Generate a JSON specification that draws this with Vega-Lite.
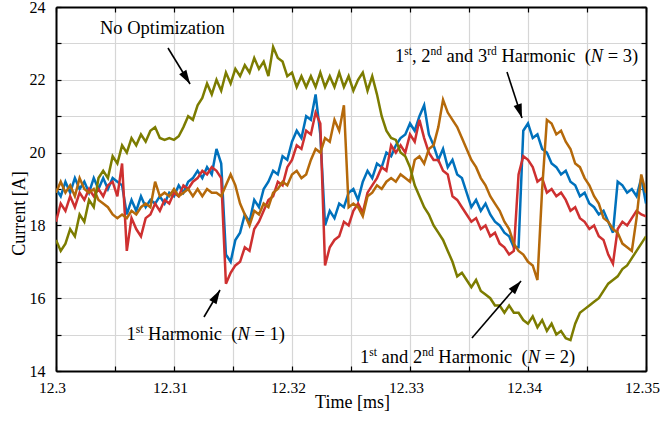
{
  "$schema": "https://vega.github.io/schema/vega-lite/v6.json",
  "width": 590,
  "height": 364,
  "autosize": {"type": "none"},
  "padding": {"left": 56, "top": 7, "right": 15, "bottom": 50},
  "background": "white",
  "config": {"view": {"stroke": null}, "font": "Liberation Serif", "axis": {"labelFont": "Liberation Serif", "titleFont": "Liberation Serif"}},
  "datasets": {
    "current": [
      {"t":12.3,"none":17.6,"n3":19.0,"n1":18.1,"n2":18.9},
      {"t":12.3004,"none":17.3,"n3":18.8,"n1":18.6,"n2":19.2},
      {"t":12.3008,"none":17.5,"n3":19.2,"n1":18.4,"n2":18.9},
      {"t":12.3012,"none":17.9,"n3":18.9,"n1":18.8,"n2":19.1},
      {"t":12.3016,"none":17.7,"n3":19.3,"n1":18.5,"n2":18.8},
      {"t":12.302,"none":18.3,"n3":19.0,"n1":18.9,"n2":19.3},
      {"t":12.3024,"none":18.1,"n3":19.2,"n1":18.7,"n2":19.0},
      {"t":12.3028,"none":18.7,"n3":18.9,"n1":19.0,"n2":18.9},
      {"t":12.3032,"none":18.5,"n3":19.3,"n1":18.8,"n2":19.0},
      {"t":12.3036,"none":19.3,"n3":19.0,"n1":19.0,"n2":18.7},
      {"t":12.304,"none":19.5,"n3":19.3,"n1":18.8,"n2":18.6},
      {"t":12.3044,"none":19.3,"n3":19.0,"n1":19.1,"n2":18.5},
      {"t":12.3048,"none":19.9,"n3":19.3,"n1":19.2,"n2":18.3},
      {"t":12.3052,"none":19.7,"n3":19.2,"n1":18.8,"n2":18.2},
      {"t":12.3056,"none":20.2,"n3":19.1,"n1":19.7,"n2":18.3},
      {"t":12.306,"none":20.0,"n3":18.3,"n1":17.3,"n2":18.2},
      {"t":12.3064,"none":20.4,"n3":18.7,"n1":18.2,"n2":18.4},
      {"t":12.3068,"none":20.2,"n3":18.4,"n1":17.9,"n2":18.3},
      {"t":12.3072,"none":20.5,"n3":18.8,"n1":17.7,"n2":18.5},
      {"t":12.3076,"none":20.3,"n3":18.5,"n1":18.2,"n2":18.6},
      {"t":12.308,"none":20.6,"n3":18.7,"n1":18.3,"n2":18.5},
      {"t":12.3084,"none":20.7,"n3":18.6,"n1":18.6,"n2":19.2},
      {"t":12.3088,"none":20.4,"n3":18.8,"n1":18.4,"n2":18.8},
      {"t":12.3092,"none":20.35,"n3":18.6,"n1":18.7,"n2":18.9},
      {"t":12.3096,"none":20.4,"n3":18.9,"n1":18.6,"n2":18.8},
      {"t":12.31,"none":20.35,"n3":18.8,"n1":18.9,"n2":19.0},
      {"t":12.3104,"none":20.45,"n3":19.1,"n1":18.8,"n2":18.8},
      {"t":12.3108,"none":20.7,"n3":18.9,"n1":19.1,"n2":18.9},
      {"t":12.3112,"none":21.0,"n3":19.2,"n1":19.0,"n2":19.0},
      {"t":12.3116,"none":20.9,"n3":19.3,"n1":19.2,"n2":18.8},
      {"t":12.312,"none":21.3,"n3":19.5,"n1":19.3,"n2":19.0},
      {"t":12.3124,"none":21.5,"n3":19.3,"n1":19.5,"n2":18.8},
      {"t":12.3128,"none":21.9,"n3":19.6,"n1":19.4,"n2":19.0},
      {"t":12.3132,"none":21.6,"n3":19.4,"n1":19.6,"n2":18.9},
      {"t":12.3136,"none":22.0,"n3":20.1,"n1":19.5,"n2":18.9},
      {"t":12.314,"none":21.7,"n3":19.7,"n1":19.3,"n2":18.8},
      {"t":12.3144,"none":22.2,"n3":17.2,"n1":16.4,"n2":19.1},
      {"t":12.3148,"none":21.9,"n3":17.0,"n1":16.7,"n2":19.4},
      {"t":12.3152,"none":22.3,"n3":17.6,"n1":16.9,"n2":19.1},
      {"t":12.3156,"none":22.1,"n3":17.8,"n1":17.0,"n2":18.6},
      {"t":12.316,"none":22.4,"n3":18.3,"n1":17.4,"n2":18.3},
      {"t":12.3164,"none":22.2,"n3":18.1,"n1":17.3,"n2":18.0},
      {"t":12.3168,"none":22.6,"n3":18.7,"n1":17.9,"n2":18.4},
      {"t":12.3172,"none":22.3,"n3":18.5,"n1":18.1,"n2":18.3},
      {"t":12.3176,"none":22.5,"n3":19.0,"n1":18.4,"n2":18.6},
      {"t":12.318,"none":22.1,"n3":19.2,"n1":18.7,"n2":18.5},
      {"t":12.3184,"none":22.9,"n3":19.5,"n1":18.8,"n2":18.9},
      {"t":12.3188,"none":22.6,"n3":19.4,"n1":19.2,"n2":19.0},
      {"t":12.3192,"none":22.5,"n3":19.9,"n1":19.1,"n2":19.2},
      {"t":12.3196,"none":22.1,"n3":19.8,"n1":19.6,"n2":19.1},
      {"t":12.32,"none":22.2,"n3":20.3,"n1":19.8,"n2":19.4},
      {"t":12.3204,"none":21.8,"n3":20.6,"n1":20.2,"n2":19.5},
      {"t":12.3208,"none":22.1,"n3":20.4,"n1":20.1,"n2":19.3},
      {"t":12.3212,"none":21.8,"n3":21.0,"n1":20.6,"n2":19.4},
      {"t":12.3216,"none":22.1,"n3":20.9,"n1":20.5,"n2":19.8},
      {"t":12.322,"none":21.8,"n3":21.6,"n1":21.1,"n2":20.1},
      {"t":12.3224,"none":22.2,"n3":20.5,"n1":20.8,"n2":20.0},
      {"t":12.3228,"none":21.8,"n3":18.0,"n1":16.9,"n2":20.4},
      {"t":12.3232,"none":22.1,"n3":18.4,"n1":17.4,"n2":20.3},
      {"t":12.3236,"none":21.8,"n3":18.2,"n1":17.6,"n2":20.9},
      {"t":12.324,"none":22.2,"n3":18.6,"n1":17.7,"n2":20.6},
      {"t":12.3244,"none":21.8,"n3":18.5,"n1":18.1,"n2":21.3},
      {"t":12.3248,"none":22.1,"n3":18.9,"n1":18.0,"n2":18.5},
      {"t":12.3252,"none":21.7,"n3":19.0,"n1":18.4,"n2":18.6},
      {"t":12.3256,"none":22.0,"n3":18.7,"n1":18.6,"n2":18.5},
      {"t":12.326,"none":22.2,"n3":19.2,"n1":18.35,"n2":18.25},
      {"t":12.3264,"none":21.7,"n3":19.5,"n1":18.9,"n2":18.8},
      {"t":12.3268,"none":22.1,"n3":19.3,"n1":19.1,"n2":18.9},
      {"t":12.3272,"none":21.6,"n3":19.7,"n1":19.3,"n2":19.1},
      {"t":12.3276,"none":21.0,"n3":19.6,"n1":19.6,"n2":19.0},
      {"t":12.328,"none":20.6,"n3":20.0,"n1":19.5,"n2":19.2},
      {"t":12.3284,"none":20.4,"n3":19.9,"n1":20.2,"n2":19.3},
      {"t":12.3288,"none":20.35,"n3":20.2,"n1":20.0,"n2":19.2},
      {"t":12.3292,"none":20.0,"n3":20.4,"n1":20.2,"n2":19.4},
      {"t":12.3296,"none":19.9,"n3":20.5,"n1":20.0,"n2":19.3},
      {"t":12.33,"none":19.6,"n3":20.8,"n1":20.5,"n2":19.2},
      {"t":12.3304,"none":19.1,"n3":20.6,"n1":20.3,"n2":19.8},
      {"t":12.3308,"none":18.8,"n3":21.0,"n1":20.9,"n2":19.9},
      {"t":12.3312,"none":18.5,"n3":21.3,"n1":20.4,"n2":19.7},
      {"t":12.3316,"none":18.3,"n3":20.5,"n1":20.0,"n2":20.1},
      {"t":12.332,"none":18.0,"n3":20.2,"n1":19.8,"n2":20.2},
      {"t":12.3324,"none":17.8,"n3":19.8,"n1":19.8,"n2":20.7},
      {"t":12.3328,"none":17.6,"n3":20.1,"n1":19.5,"n2":21.45},
      {"t":12.3332,"none":17.3,"n3":19.6,"n1":19.4,"n2":21.1},
      {"t":12.3336,"none":17.0,"n3":19.8,"n1":18.8,"n2":20.9},
      {"t":12.334,"none":16.6,"n3":19.4,"n1":18.7,"n2":20.7},
      {"t":12.3344,"none":16.7,"n3":19.3,"n1":18.5,"n2":20.4},
      {"t":12.3348,"none":16.5,"n3":18.9,"n1":18.3,"n2":20.1},
      {"t":12.3352,"none":16.3,"n3":18.5,"n1":18.1,"n2":19.8},
      {"t":12.3356,"none":16.5,"n3":18.7,"n1":18.2,"n2":19.6},
      {"t":12.336,"none":16.2,"n3":18.4,"n1":17.9,"n2":19.3},
      {"t":12.3364,"none":16.1,"n3":18.6,"n1":18.0,"n2":19.1},
      {"t":12.3368,"none":16.0,"n3":18.3,"n1":17.7,"n2":18.8},
      {"t":12.3372,"none":15.8,"n3":18.1,"n1":17.8,"n2":18.6},
      {"t":12.3376,"none":15.8,"n3":18.0,"n1":17.5,"n2":18.4},
      {"t":12.338,"none":15.6,"n3":17.8,"n1":17.4,"n2":18.1},
      {"t":12.3384,"none":15.8,"n3":17.7,"n1":17.2,"n2":17.9},
      {"t":12.3388,"none":15.6,"n3":17.4,"n1":17.3,"n2":17.5},
      {"t":12.3392,"none":15.6,"n3":17.4,"n1":19.4,"n2":17.3},
      {"t":12.3396,"none":15.4,"n3":20.6,"n1":19.9,"n2":17.2},
      {"t":12.34,"none":15.3,"n3":20.8,"n1":19.8,"n2":17.0},
      {"t":12.3404,"none":15.5,"n3":20.4,"n1":19.6,"n2":16.9},
      {"t":12.3408,"none":15.2,"n3":20.5,"n1":19.2,"n2":16.5},
      {"t":12.3412,"none":15.4,"n3":20.1,"n1":19.3,"n2":19.0},
      {"t":12.3416,"none":15.1,"n3":20.0,"n1":18.9,"n2":20.9},
      {"t":12.342,"none":15.3,"n3":19.7,"n1":19.0,"n2":20.8},
      {"t":12.3424,"none":15.0,"n3":19.6,"n1":18.8,"n2":20.5},
      {"t":12.3428,"none":15.1,"n3":19.4,"n1":18.9,"n2":20.6},
      {"t":12.3432,"none":14.9,"n3":19.5,"n1":18.7,"n2":20.3},
      {"t":12.3436,"none":14.85,"n3":19.2,"n1":18.4,"n2":20.1},
      {"t":12.344,"none":15.3,"n3":19.1,"n1":18.5,"n2":19.7},
      {"t":12.3444,"none":15.6,"n3":18.8,"n1":18.2,"n2":19.6},
      {"t":12.3448,"none":15.7,"n3":18.9,"n1":18.1,"n2":19.3},
      {"t":12.3452,"none":15.8,"n3":18.6,"n1":17.9,"n2":19.1},
      {"t":12.3456,"none":15.9,"n3":18.5,"n1":18.0,"n2":18.8},
      {"t":12.346,"none":16.0,"n3":18.3,"n1":17.7,"n2":18.6},
      {"t":12.3464,"none":16.2,"n3":18.4,"n1":17.6,"n2":18.2},
      {"t":12.3468,"none":16.4,"n3":18.1,"n1":17.2,"n2":18.1},
      {"t":12.3472,"none":16.5,"n3":17.8,"n1":16.95,"n2":17.9},
      {"t":12.3476,"none":16.6,"n3":19.2,"n1":17.9,"n2":17.8},
      {"t":12.348,"none":16.8,"n3":19.1,"n1":18.1,"n2":17.5},
      {"t":12.3484,"none":16.9,"n3":18.9,"n1":18.0,"n2":17.4},
      {"t":12.3488,"none":17.1,"n3":19.0,"n1":18.2,"n2":17.3},
      {"t":12.3492,"none":17.3,"n3":18.8,"n1":18.4,"n2":18.2},
      {"t":12.3496,"none":17.5,"n3":19.3,"n1":18.3,"n2":19.4},
      {"t":12.35,"none":17.7,"n3":18.6,"n1":18.25,"n2":18.9}
    ],
    "labels": [
      {"t":12.303729,"v":23.258,"s":"No Optimization"},
      {"t":12.305975,"v":14.852,"s":"1"},
      {"t":12.307805,"v":14.852,"s":"Harmonic"},
      {"t":12.314856,"v":14.852,"s":"("},
      {"t":12.316822,"v":14.852,"s":"= 1)"},
      {"t":12.325763,"v":14.22,"s":"1"},
      {"t":12.327593,"v":14.22,"s":"and 2"},
      {"t":12.332398,"v":14.22,"s":"Harmonic"},
      {"t":12.339458,"v":14.22,"s":"("},
      {"t":12.341415,"v":14.22,"s":"= 2)"},
      {"t":12.328729,"v":22.489,"s":"1"},
      {"t":12.330165,"v":22.489,"s":", 2"},
      {"t":12.333102,"v":22.489,"s":"and 3"},
      {"t":12.337746,"v":22.489,"s":"Harmonic"},
      {"t":12.344805,"v":22.489,"s":"("},
      {"t":12.346763,"v":22.489,"s":"= 3)"}
    ],
    "ordinals": [
      {"t":12.306758,"v":14.852,"s":"st"},
      {"t":12.326547,"v":14.22,"s":"st"},
      {"t":12.331034,"v":14.22,"s":"nd"},
      {"t":12.329513,"v":22.489,"s":"st"},
      {"t":12.331733,"v":22.489,"s":"nd"},
      {"t":12.336542,"v":22.489,"s":"rd"}
    ],
    "symbolN": [
      {"t":12.315381,"v":14.852,"s":"N"},
      {"t":12.339975,"v":14.22,"s":"N"},
      {"t":12.345322,"v":22.489,"s":"N"}
    ],
    "arrows": [
      {"t1":12.30949,"v1":22.874,"t2":12.31136,"v2":21.885},
      {"t1":12.33822,"v1":22.214,"t2":12.33949,"v2":20.951},
      {"t1":12.31254,"v1":15.484,"t2":12.3139,"v2":16.225},
      {"t1":12.33525,"v1":14.907,"t2":12.33941,"v2":16.473}
    ]
  },
  "resolve": {"axis": {"x": "independent", "y": "independent"}},
  "layer": [
    {
      "data": {"name": "current"},
      "mark": {"type": "line", "color": "#0071BC", "strokeWidth": 2.5, "clip": true},
      "encoding": {
        "x": {
          "field": "t", "type": "quantitative",
          "scale": {"domain": [12.3, 12.35], "nice": false, "zero": false},
          "axis": {
            "orient": "bottom",
            "values": [12.3, 12.305, 12.31, 12.315, 12.32, 12.325, 12.33, 12.335, 12.34, 12.345, 12.35],
            "labelExpr": "round(datum.value * 1000) % 10 == 0 ? format(datum.value, '.2~f') : ''",
            "title": "Time [ms]",
            "grid": true, "gridColor": "#d6d6d6", "gridWidth": 1.2,
            "domainColor": "black", "domainWidth": 2,
            "tickColor": "black", "tickWidth": 1.2, "tickSize": -5,
            "labelPadding": 14, "labelOffset": -4, "labelFont": "Liberation Serif", "labelFontSize": 15.5, "labelColor": "black",
            "labelFlush": false, "labelOverlap": false,
            "titleFont": "Liberation Serif", "titleFontSize": 18, "titleFontWeight": "normal", "titleColor": "black",
            "titleX": 296, "titleY": 36, "titleBaseline": "alphabetic", "titleAlign": "center"
          }
        },
        "y": {
          "field": "n3", "type": "quantitative",
          "scale": {"domain": [14, 24], "nice": false, "zero": false},
          "axis": {
            "orient": "left",
            "values": [14, 15, 16, 17, 18, 19, 20, 21, 22, 23, 24],
            "labelExpr": "datum.value % 2 == 0 ? datum.label : ''",
            "title": "Current [A]",
            "grid": true, "gridColor": "#d6d6d6", "gridWidth": 1.2,
            "domainColor": "black", "domainWidth": 2,
            "tickColor": "black", "tickWidth": 1.2, "tickSize": -5,
            "labelPadding": 16, "labelFont": "Liberation Serif", "labelFontSize": 16, "labelColor": "black",
            "labelFlush": false, "labelOverlap": false,
            "titleFont": "Liberation Serif", "titleFontSize": 18, "titleFontWeight": "normal", "titleColor": "black",
            "titleX": -32, "titleY": 206, "titleBaseline": "alphabetic", "titleAlign": "center", "titleAngle": -90
          }
        }
      }
    },
    {
      "data": {"name": "current"},
      "mark": {"type": "line", "color": "#CE3030", "strokeWidth": 2.5, "clip": true},
      "encoding": {
        "x": {"field": "t", "type": "quantitative", "scale": {"domain": [12.3, 12.35], "nice": false, "zero": false}, "axis": null},
        "y": {"field": "n1", "type": "quantitative", "scale": {"domain": [14, 24], "nice": false, "zero": false}, "axis": null}
      }
    },
    {
      "data": {"name": "current"},
      "mark": {"type": "line", "color": "#B5690A", "strokeWidth": 2.5, "clip": true},
      "encoding": {
        "x": {"field": "t", "type": "quantitative", "scale": {"domain": [12.3, 12.35], "nice": false, "zero": false}, "axis": null},
        "y": {"field": "n2", "type": "quantitative", "scale": {"domain": [14, 24], "nice": false, "zero": false}, "axis": null}
      }
    },
    {
      "data": {"name": "current"},
      "mark": {"type": "line", "color": "#7C7C00", "strokeWidth": 2.5, "clip": true},
      "encoding": {
        "x": {
          "field": "t", "type": "quantitative",
          "scale": {"domain": [12.3, 12.35], "nice": false, "zero": false},
          "axis": {
            "orient": "top", "title": null, "labels": false, "grid": false,
            "values": [12.3, 12.305, 12.31, 12.315, 12.32, 12.325, 12.33, 12.335, 12.34, 12.345, 12.35],
            "domainColor": "black", "domainWidth": 2, "tickColor": "black", "tickWidth": 1.2, "tickSize": -5
          }
        },
        "y": {
          "field": "none", "type": "quantitative",
          "scale": {"domain": [14, 24], "nice": false, "zero": false},
          "axis": {
            "orient": "right", "title": null, "labels": false, "grid": false,
            "values": [14, 15, 16, 17, 18, 19, 20, 21, 22, 23, 24],
            "domainColor": "black", "domainWidth": 2, "tickColor": "black", "tickWidth": 1.2, "tickSize": -5
          }
        }
      }
    },
    {
      "data": {"name": "arrows"},
      "mark": {"type": "rule", "color": "black", "strokeWidth": 1.6},
      "encoding": {
        "x": {"field": "t1", "type": "quantitative", "scale": {"domain": [12.3, 12.35], "nice": false, "zero": false}, "axis": null},
        "y": {"field": "v1", "type": "quantitative", "scale": {"domain": [14, 24], "nice": false, "zero": false}, "axis": null},
        "x2": {"field": "t2"},
        "y2": {"field": "v2"}
      }
    },
    {
      "data": {"values": [{"t": 12.31136, "v": 21.885}]},
      "mark": {"type": "point", "shape": "M0,0L0.3,1L-0.3,1Z", "size": 784, "angle": 148.6, "filled": true, "color": "black", "opacity": 1, "strokeWidth": 0},
      "encoding": {
        "x": {"field": "t", "type": "quantitative", "scale": {"domain": [12.3, 12.35], "nice": false, "zero": false}, "axis": null},
        "y": {"field": "v", "type": "quantitative", "scale": {"domain": [14, 24], "nice": false, "zero": false}, "axis": null}
      }
    },
    {
      "data": {"values": [{"t": 12.33949, "v": 20.951}]},
      "mark": {"type": "point", "shape": "M0,0L0.3,1L-0.3,1Z", "size": 784, "angle": 162, "filled": true, "color": "black", "opacity": 1, "strokeWidth": 0},
      "encoding": {
        "x": {"field": "t", "type": "quantitative", "scale": {"domain": [12.3, 12.35], "nice": false, "zero": false}, "axis": null},
        "y": {"field": "v", "type": "quantitative", "scale": {"domain": [14, 24], "nice": false, "zero": false}, "axis": null}
      }
    },
    {
      "data": {"values": [{"t": 12.3139, "v": 16.225}]},
      "mark": {"type": "point", "shape": "M0,0L0.3,1L-0.3,1Z", "size": 784, "angle": 30.6, "filled": true, "color": "black", "opacity": 1, "strokeWidth": 0},
      "encoding": {
        "x": {"field": "t", "type": "quantitative", "scale": {"domain": [12.3, 12.35], "nice": false, "zero": false}, "axis": null},
        "y": {"field": "v", "type": "quantitative", "scale": {"domain": [14, 24], "nice": false, "zero": false}, "axis": null}
      }
    },
    {
      "data": {"values": [{"t": 12.33941, "v": 16.473}]},
      "mark": {"type": "point", "shape": "M0,0L0.3,1L-0.3,1Z", "size": 784, "angle": 40.7, "filled": true, "color": "black", "opacity": 1, "strokeWidth": 0},
      "encoding": {
        "x": {"field": "t", "type": "quantitative", "scale": {"domain": [12.3, 12.35], "nice": false, "zero": false}, "axis": null},
        "y": {"field": "v", "type": "quantitative", "scale": {"domain": [14, 24], "nice": false, "zero": false}, "axis": null}
      }
    },
    {
      "data": {"name": "labels"},
      "mark": {"type": "text", "align": "left", "baseline": "alphabetic", "font": "Liberation Serif", "fontSize": 18.5, "color": "black"},
      "encoding": {
        "x": {"field": "t", "type": "quantitative", "scale": {"domain": [12.3, 12.35], "nice": false, "zero": false}, "axis": null},
        "y": {"field": "v", "type": "quantitative", "scale": {"domain": [14, 24], "nice": false, "zero": false}, "axis": null},
        "text": {"field": "s"}
      }
    },
    {
      "data": {"name": "ordinals"},
      "mark": {"type": "text", "align": "left", "baseline": "alphabetic", "font": "Liberation Serif", "fontSize": 11.5, "dy": -7, "color": "black"},
      "encoding": {
        "x": {"field": "t", "type": "quantitative", "scale": {"domain": [12.3, 12.35], "nice": false, "zero": false}, "axis": null},
        "y": {"field": "v", "type": "quantitative", "scale": {"domain": [14, 24], "nice": false, "zero": false}, "axis": null},
        "text": {"field": "s"}
      }
    },
    {
      "data": {"name": "symbolN"},
      "mark": {"type": "text", "align": "left", "baseline": "alphabetic", "font": "Liberation Serif", "fontSize": 18.5, "fontStyle": "italic", "color": "black"},
      "encoding": {
        "x": {"field": "t", "type": "quantitative", "scale": {"domain": [12.3, 12.35], "nice": false, "zero": false}, "axis": null},
        "y": {"field": "v", "type": "quantitative", "scale": {"domain": [14, 24], "nice": false, "zero": false}, "axis": null},
        "text": {"field": "s"}
      }
    }
  ]
}
